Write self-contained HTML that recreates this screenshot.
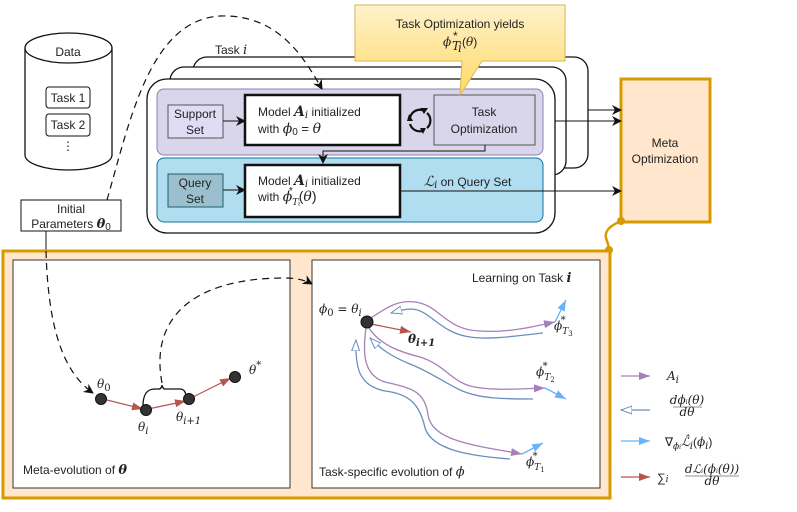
<!DOCTYPE html>
<html><head><meta charset="utf-8"><style>
html,body{margin:0;padding:0;background:#fff}
svg{display:block}
text{font-family:"Liberation Sans",sans-serif;font-size:12px;fill:#222}
.m{font-family:"DejaVu Serif","Liberation Serif",serif;font-style:italic}
</style></head><body>
<svg width="797" height="512" viewBox="0 0 797 512" xmlns="http://www.w3.org/2000/svg">
<defs>
<marker id="ab" markerWidth="10" markerHeight="10" refX="9" refY="5" orient="auto" markerUnits="userSpaceOnUse"><path d="M0,0 L10,5 L0,10 L3,5z" fill="#111"/></marker>
<marker id="ap" markerWidth="12" markerHeight="10" refX="11" refY="5" orient="auto" markerUnits="userSpaceOnUse"><path d="M0,1 L11,5 L0,9z" fill="#a680b8"/></marker>
<marker id="ac" markerWidth="12" markerHeight="10" refX="11" refY="5" orient="auto" markerUnits="userSpaceOnUse"><path d="M0,1 L11,5 L0,9z" fill="#66b2ff"/></marker>
<marker id="ar" markerWidth="12" markerHeight="10" refX="11" refY="5" orient="auto" markerUnits="userSpaceOnUse"><path d="M0,1 L11,5 L0,9z" fill="#b85450"/></marker>
<marker id="ao" markerWidth="12" markerHeight="10" refX="11" refY="5" orient="auto" markerUnits="userSpaceOnUse"><path d="M0,1 L11,5 L0,9z" fill="#fff" stroke="#6c8ebf"/></marker>
<linearGradient id="g" x1="0" y1="0" x2="0" y2="1"><stop offset="0" stop-color="#fff2cc"/><stop offset="1" stop-color="#ffd966"/></linearGradient>
</defs>

<!-- cylinder -->
<path d="M25,48 L25,155 A43.5,15 0 0 0 112,155 L112,48" fill="#fff" stroke="#111" stroke-width="1.3"/>
<ellipse cx="68.5" cy="48" rx="43.5" ry="15" fill="#fff" stroke="#111" stroke-width="1.3"/>
<text x="68" y="56" text-anchor="middle">Data</text>
<rect x="46" y="87" width="44" height="21" rx="3" fill="#fff" stroke="#111"/>
<text x="68" y="102" text-anchor="middle">Task 1</text>
<rect x="46" y="114" width="44" height="22" rx="3" fill="#fff" stroke="#111"/>
<text x="68" y="129" text-anchor="middle">Task 2</text>
<text x="68" y="150" text-anchor="middle" font-size="9">⋮</text>

<!-- initial params -->
<rect x="21" y="200" width="100" height="31" fill="#fff" stroke="#111"/>
<text x="71" y="213" text-anchor="middle">Initial</text>
<text x="71" y="228" text-anchor="middle">Parameters <tspan class="m" font-weight="bold" font-size="13">θ</tspan><tspan font-size="10" dy="2">0</tspan></text>
<line x1="46" y1="231" x2="46" y2="251" stroke="#111"/>

<!-- stacks -->
<rect x="193" y="57" width="395" height="111" rx="14" fill="#fff" stroke="#111" stroke-width="1.3"/>
<rect x="170" y="67" width="396" height="108" rx="14" fill="#fff" stroke="#111" stroke-width="1.3"/>
<rect x="147" y="79" width="408" height="154" rx="20" fill="#fff" stroke="#111" stroke-width="1.3"/>
<text x="215" y="54">Task <tspan class="m" font-size="13">i</tspan></text>

<rect x="157" y="89" width="386" height="66" rx="7" fill="#d9d5ea" stroke="#8c80b0"/>
<rect x="157" y="158" width="386" height="64" rx="7" fill="#b1ddf0" stroke="#10739e"/>

<rect x="168" y="105" width="55" height="33" fill="#e1dcf5" stroke="#555"/>
<text x="195" y="118" text-anchor="middle">Support</text>
<text x="195" y="134" text-anchor="middle">Set</text>
<rect x="168" y="174" width="55" height="33" fill="#9ac0cd" stroke="#1c5f75"/>
<text x="195" y="187" text-anchor="middle">Query</text>
<text x="195" y="203" text-anchor="middle">Set</text>
<line x1="223" y1="121" x2="245" y2="121" stroke="#111" marker-end="url(#ab)"/>
<line x1="223" y1="190" x2="245" y2="190" stroke="#111" marker-end="url(#ab)"/>

<rect x="245" y="95" width="155" height="50" fill="#fff" stroke="#111" stroke-width="2.5"/>
<text x="258" y="116">Model <tspan class="m" font-weight="bold" font-size="14">A</tspan><tspan class="m" font-size="10" dy="2">i</tspan><tspan dy="-2"> initialized</tspan></text>
<text x="258" y="133">with <tspan class="m" font-size="14">ϕ</tspan><tspan font-size="10" dy="2">0</tspan><tspan dy="-2" font-size="13"> = </tspan><tspan class="m" font-size="14">θ</tspan></text>
<rect x="245" y="165" width="155" height="52" fill="#fff" stroke="#111" stroke-width="2.5"/>
<text x="258" y="185">Model <tspan class="m" font-weight="bold" font-size="14">A</tspan><tspan class="m" font-size="10" dy="2">i</tspan><tspan dy="-2"> initialized</tspan></text>
<text x="258" y="201">with <tspan class="m" font-size="14">ϕ</tspan><tspan class="m" font-size="9" dy="4">T</tspan><tspan font-size="7" dy="1">i</tspan><tspan font-size="10" dy="-12" dx="-11">*</tspan><tspan dy="7" dx="6" font-size="14">(</tspan><tspan class="m" font-size="14">θ</tspan><tspan font-size="14">)</tspan></text>
<text x="424" y="186"><tspan class="m" font-size="14">ℒ</tspan><tspan class="m" font-size="10" dy="2">i</tspan><tspan dy="-2"> on Query Set</tspan></text>

<rect x="434" y="95" width="101" height="50" fill="#d9d5ea" stroke="#555"/>
<text x="484" y="116" text-anchor="middle">Task</text>
<text x="484" y="133" text-anchor="middle">Optimization</text>
<!-- cycle icon -->
<path d="M410,118 A10,10 0 0 1 422,110" fill="none" stroke="#111" stroke-width="2.2"/>
<path d="M427,113 A10,10 0 0 1 427,128" fill="none" stroke="#111" stroke-width="2.2"/>
<path d="M422,131 A10,10 0 0 1 410,124" fill="none" stroke="#111" stroke-width="2.2"/>
<path d="M409,114 L413,121 L407,121z" fill="#111"/>
<path d="M428,108 L424,114 L420,108z" fill="#111"/>
<path d="M423,134 L420,128 L426,128z" fill="#111"/>
<polyline points="485,145 485,151 323,151 323,163" fill="none" stroke="#111" marker-end="url(#ab)"/>

<!-- callout -->
<path d="M355,5 L565,5 L565,61 L482,61 L460,95 L462,61 L355,61z" fill="url(#g)" stroke="#d6b656"/>
<text x="460" y="28" text-anchor="middle">Task Optimization yields</text>
<text x="443" y="46" class="m" font-size="14">ϕ</text><text x="452" y="50" class="m" font-size="9">T</text><text x="458" y="52" class="m" font-size="7">i</text><text x="453" y="40" font-size="10">*</text><text x="462" y="46" font-size="14">(<tspan class="m">θ</tspan>)</text>

<!-- meta opt -->
<rect x="621" y="79" width="89" height="143" fill="#ffe6cc" stroke="#d79b00" stroke-width="3"/>
<text x="665" y="147" text-anchor="middle">Meta</text>
<text x="665" y="163" text-anchor="middle">Optimization</text>
<line x1="588" y1="110" x2="621" y2="110" stroke="#111" marker-end="url(#ab)"/>
<line x1="555" y1="121" x2="621" y2="121" stroke="#111" marker-end="url(#ab)"/>
<line x1="400" y1="191" x2="621" y2="191" stroke="#111" marker-end="url(#ab)"/>

<!-- orange connector -->
<path d="M621,221 C612,225 604,230 606,238 C608,244 609,246 609,250" fill="none" stroke="#d79b00" stroke-width="2.5"/>
<circle cx="621" cy="221" r="4" fill="#d79b00"/>
<circle cx="609" cy="250" r="4" fill="#d79b00"/>

<!-- bottom box -->
<rect x="3" y="251" width="607" height="247" fill="#ffe6cc" stroke="#d79b00" stroke-width="3"/>
<rect x="13" y="260" width="277" height="228" fill="#fff" stroke="#333"/>
<rect x="312" y="260" width="288" height="228" fill="#fff" stroke="#333"/>

<!-- dashed curves -->
<path d="M107,200 C130,120 150,20 220,16 C280,14 305,60 322,89" fill="none" stroke="#111" stroke-dasharray="7,5" stroke-width="1.2" marker-end="url(#ab)"/>
<path d="M46,251 C48,320 60,370 93,393" fill="none" stroke="#111" stroke-dasharray="7,5" stroke-width="1.2" marker-end="url(#ab)"/>
<path d="M162,383 C150,320 190,278 285,278 C295,278 305,280 312,284" fill="none" stroke="#111" stroke-dasharray="7,5" stroke-width="1.2" marker-end="url(#ab)"/>

<!-- left panel -->
<path d="M143,406 C143,394 147,389 155,389 L159,389 C161,389 162,386 162,385 C162,386 163,389 165,389 L180,389 C185,389 186,394 186,398" fill="none" stroke="#111" stroke-width="1.3"/>
<line x1="103" y1="399" x2="143" y2="409" stroke="#b85450" stroke-width="1.2" marker-end="url(#ar)"/>
<line x1="148" y1="409" x2="186" y2="401" stroke="#b85450" stroke-width="1.2" marker-end="url(#ar)"/>
<line x1="191" y1="398" x2="231" y2="378" stroke="#b85450" stroke-width="1.2" marker-end="url(#ar)"/>
<circle cx="101" cy="399" r="5.5" fill="#333" stroke="#111"/>
<circle cx="146" cy="410" r="5.5" fill="#333" stroke="#111"/>
<circle cx="189" cy="399" r="5.5" fill="#333" stroke="#111"/>
<circle cx="235" cy="377" r="5.5" fill="#333" stroke="#111"/>
<text x="97" y="388" class="m" font-size="14">θ<tspan font-size="10" font-style="normal" dy="3">0</tspan></text>
<text x="138" y="431" class="m" font-size="14">θ<tspan font-size="10" dy="3">i</tspan></text>
<text x="176" y="421" class="m" font-size="14">θ<tspan font-size="10" dy="3">i+1</tspan></text>
<text x="249" y="374" class="m" font-size="14">θ<tspan font-size="10" dy="-6">*</tspan></text>
<text x="23" y="474">Meta-evolution of <tspan class="m" font-weight="bold" font-size="13">θ</tspan></text>

<!-- right panel -->
<text x="472" y="282">Learning on Task <tspan class="m" font-weight="bold" font-size="13">i</tspan></text>
<text x="319" y="476">Task-specific evolution of <tspan class="m" font-size="13">ϕ</tspan></text>
<text x="319" y="313" class="m" font-size="14">ϕ<tspan font-size="10" font-style="normal" dy="3">0</tspan><tspan dy="-3" font-style="normal"> = </tspan>θ<tspan font-size="10" dy="3">i</tspan></text>

<!-- T3 -->
<path d="M371,318 C390,305 400,300 415,302 C440,305 445,330 480,331 C510,333 535,326 555,322" fill="none" stroke="#a680b8" stroke-width="1.3" marker-end="url(#ap)"/>
<path d="M543,333 C515,336 490,340 470,337 C440,333 430,310 412,309 C404,309 398,311 391,313" fill="none" stroke="#6c8ebf" stroke-width="1.3" marker-end="url(#ao)"/>
<line x1="555" y1="322" x2="566" y2="300" stroke="#66b2ff" stroke-width="1.3" marker-end="url(#ac)"/>
<!-- T2 -->
<path d="M369,328 C380,345 400,352 420,357 C445,365 450,380 470,386 C490,391 515,389 545,388" fill="none" stroke="#a680b8" stroke-width="1.3" marker-end="url(#ap)"/>
<path d="M533,399 C505,399 480,399 460,390 C440,380 430,372 410,364 C390,356 380,348 370,338" fill="none" stroke="#6c8ebf" stroke-width="1.3" marker-end="url(#ao)"/>
<line x1="545" y1="388" x2="566" y2="399" stroke="#66b2ff" stroke-width="1.3" marker-end="url(#ac)"/>
<!-- T1 -->
<path d="M366,328 C363,350 362,375 385,382 C410,388 425,390 428,415 C432,440 470,445 522,454" fill="none" stroke="#a680b8" stroke-width="1.3" marker-end="url(#ap)"/>
<path d="M510,459 C470,456 432,450 425,428 C420,405 410,394 385,391 C360,386 355,370 356,340" fill="none" stroke="#6c8ebf" stroke-width="1.3" marker-end="url(#ao)"/>
<line x1="522" y1="454" x2="543" y2="443" stroke="#66b2ff" stroke-width="1.3" marker-end="url(#ac)"/>

<line x1="371" y1="324" x2="411" y2="332" stroke="#b85450" stroke-width="1.3" marker-end="url(#ar)"/>
<circle cx="367" cy="322" r="6" fill="#333" stroke="#111"/>
<text x="408" y="343" class="m" font-size="14" font-weight="bold">θ<tspan font-size="10" dy="3">i+1</tspan></text>
<text x="554" y="330" class="m" font-size="14">ϕ<tspan font-size="9" dy="4">T</tspan><tspan font-size="7" dy="2" font-style="normal">3</tspan><tspan font-size="10" dx="-12" dy="-13">*</tspan></text>
<text x="536" y="376" class="m" font-size="14">ϕ<tspan font-size="9" dy="4">T</tspan><tspan font-size="7" dy="2" font-style="normal">2</tspan><tspan font-size="10" dx="-12" dy="-13">*</tspan></text>
<text x="526" y="466" class="m" font-size="14">ϕ<tspan font-size="9" dy="4">T</tspan><tspan font-size="7" dy="2" font-style="normal">1</tspan><tspan font-size="10" dx="-12" dy="-13">*</tspan></text>

<!-- legend -->
<line x1="621" y1="376" x2="650" y2="376" stroke="#a680b8" stroke-width="1.3" marker-end="url(#ap)"/>
<text x="667" y="380" class="m" font-size="15">A<tspan font-size="10" dy="3">i</tspan></text>
<line x1="650" y1="410" x2="621" y2="410" stroke="#6c8ebf" stroke-width="1.3" marker-end="url(#ao)"/>
<text x="687" y="404" class="m" font-size="8" text-anchor="middle">dϕ<tspan font-size="6">i</tspan>(θ)</text>
<line x1="673" y1="407" x2="702" y2="407" stroke="#222" stroke-width="0.6"/>
<text x="687" y="416" class="m" font-size="8" text-anchor="middle">dθ</text>
<line x1="621" y1="441" x2="650" y2="441" stroke="#66b2ff" stroke-width="1.3" marker-end="url(#ac)"/>
<text x="665" y="446" font-size="15">∇<tspan class="m" font-size="9" dy="3">ϕ</tspan><tspan class="m" font-size="6">i</tspan><tspan class="m" dy="-3">ℒ̂</tspan><tspan class="m" font-size="10" dy="3">i</tspan><tspan dy="-3">(</tspan><tspan class="m">ϕ</tspan><tspan class="m" font-size="10" dy="3">i</tspan><tspan dy="-3">)</tspan></text>
<line x1="621" y1="477" x2="650" y2="477" stroke="#b85450" stroke-width="1.3" marker-end="url(#ar)"/>
<text x="657" y="482" font-size="17">∑<tspan class="m" font-size="9">i</tspan></text>
<text x="712" y="473" class="m" font-size="8" text-anchor="middle">dℒ<tspan font-size="6">i</tspan>(ϕ<tspan font-size="6">i</tspan>(θ))</text>
<line x1="685" y1="476" x2="739" y2="476" stroke="#222" stroke-width="0.6"/>
<text x="712" y="485" class="m" font-size="8" text-anchor="middle">dθ</text>
</svg>
</body></html>
